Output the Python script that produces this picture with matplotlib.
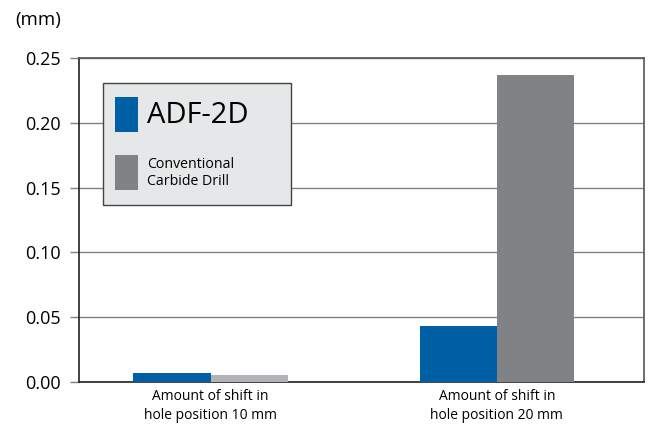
import matplotlib.pyplot as plt
from matplotlib.patches import Rectangle

plt.rcParams['font.family'] = ['Open Sans', 'DejaVu Sans']

groups = ["Amount of shift in\nhole position 10 mm", "Amount of shift in\nhole position 20 mm"]
adf_2d = [0.0070, 0.043]
conventional = [0.0054, 0.237]
yticks = [0.00, 0.05, 0.10, 0.15, 0.20, 0.25]

blue = "#0060a6"
gray_colors = ["#b1b3b6", "#808285"]

fig = plt.figure(figsize=(6.5, 4.24), dpi=100)
ax = fig.add_axes([79 / 650, 1 - 382 / 424, 565 / 650, 324 / 424])

w = 0.27
x = list(range(len(groups)))
ax.bar([i - w / 2 for i in x], adf_2d, width=w, color=blue, zorder=3)
ax.bar([i + w / 2 for i in x], conventional, width=w, color=gray_colors, zorder=3)

ax.set_xlim(-0.46, 1.514)
ax.set_ylim(0, 0.25)
ax.set_yticks(yticks)
ax.set_yticklabels([f"{v:.2f}" for v in yticks], fontsize=13)
ax.set_xticks(x)
ax.set_xticklabels(groups, fontsize=10, linespacing=1.4)
ax.tick_params(axis='x', length=0, pad=5)
ax.tick_params(axis='y', length=6.5, width=1, color="#808080", pad=6.5)
ax.grid(axis='y', color="#808080", linewidth=1, zorder=0)

for side in ['left', 'bottom']:
    ax.spines[side].set_color("#222222")
    ax.spines[side].set_linewidth(1.2)
for side in ['top', 'right']:
    ax.spines[side].set_color("#555555")
    ax.spines[side].set_linewidth(1.2)

fig.text(15 / 650, 1 - 20 / 424, "(mm)", fontsize=13.5, va='center', ha='left')

# legend box drawn by hand
ax.add_patch(Rectangle((0.0425, 0.546), 0.333, 0.377, transform=ax.transAxes,
                       facecolor="#e6e7e8", edgecolor="#444444", linewidth=1, zorder=5))
ax.add_patch(Rectangle((0.064, 0.772), 0.041, 0.108, transform=ax.transAxes,
                       facecolor=blue, edgecolor='none', zorder=6))
ax.add_patch(Rectangle((0.064, 0.593), 0.041, 0.108, transform=ax.transAxes,
                       facecolor=gray_colors[1], edgecolor='none', zorder=6))
ax.text(0.12, 0.823, "ADF-2D", transform=ax.transAxes, fontsize=21,
        va='center', ha='left', zorder=7)
ax.text(0.12, 0.645, "Conventional\nCarbide Drill", transform=ax.transAxes,
        fontsize=10.2, va='center', ha='left', linespacing=1.1, zorder=7)

fig.savefig("out.png", dpi=100)
